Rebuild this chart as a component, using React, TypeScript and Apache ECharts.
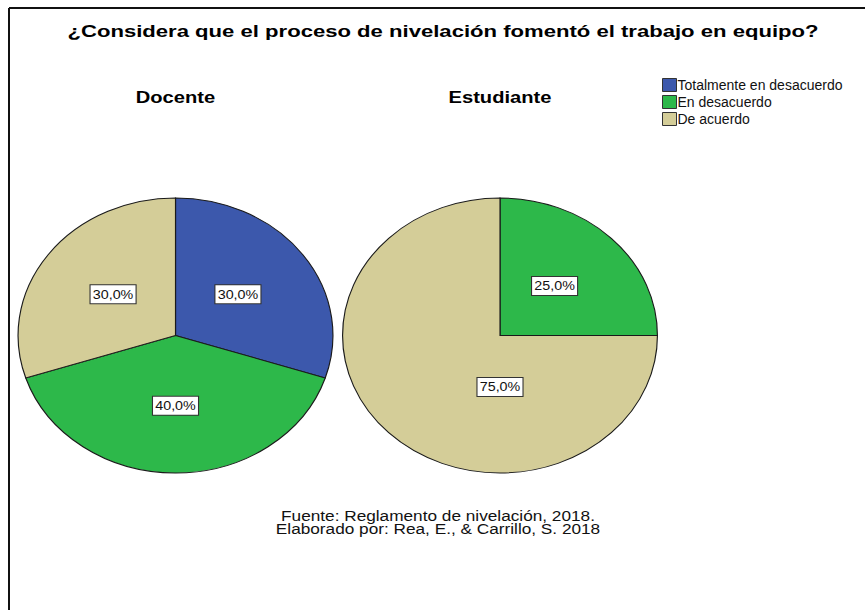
import React, { useEffect, useRef } from "react";
import * as echarts from "echarts";

const titleText = "¿Considera que el proceso de nivelación fomentó el trabajo en equipo?";
const groups = ["Docente", "Estudiante"];
const categories = ["Totalmente en desacuerdo", "En desacuerdo", "De acuerdo"];
const totalmenteEnDesacuerdo = [30, 0];
const enDesacuerdo = [40, 25];
const deAcuerdo = [30, 75];
const sourceLines = ["Fuente: Reglamento de nivelación, 2018.", "Elaborado por: Rea, E., & Carrillo, S. 2018"];

const seriesValues = [totalmenteEnDesacuerdo, enDesacuerdo, deAcuerdo];
const colors = ["#3c58ac", "#2db84a", "#d4cd98"];

// layout
const FONT = "'Liberation Sans', Arial, sans-serif";
const CENTERS = [
  [175.5, 335.5],
  [500, 335.5],
];
const RX = 157.5;
const RY = 137.5;
const LABEL_RX = 0.49;
const LABEL_RY = 0.51;

function fmt(p: number) {
  return p.toFixed(1).replace(".", ",") + "%";
}

export default function App() {
  const ref = useRef<HTMLDivElement>(null);
  useEffect(() => {
    document.body.style.margin = "0";
    const chart = echarts.init(ref.current!, null, { renderer: "svg" });

    const renderItem = (params: any, api: any) => {
      const c = params.seriesIndex;
      const p = params.dataIndex;
      const v = api.value(0) as number;
      if (!v) return { type: "group", children: [] };
      let total = 0;
      let before = 0;
      seriesValues.forEach((arr, i) => {
        total += arr[p];
        if (i < c) before += arr[p];
      });
      const a0 = -Math.PI / 2 + (2 * Math.PI * before) / total;
      const a1 = a0 + (2 * Math.PI * v) / total;
      const [cx, cy] = CENTERS[p];
      const frac = v / total;
      let lx: number, ly: number;
      if (frac > 0.5) {
        // large slices: label placed below the centre
        lx = cx;
        ly = cy + 0.375 * RY;
      } else {
        const m = (a0 + a1) / 2;
        lx = cx + LABEL_RX * RX * Math.cos(m);
        ly = cy + LABEL_RY * RY * Math.sin(m);
      }
      return {
        type: "group",
        children: [
          {
            type: "group",
            x: cx,
            y: cy,
            scaleX: RX / RY,
            children: [
              {
                type: "sector",
                shape: { cx: 0, cy: 0, r0: 0, r: RY, startAngle: a0, endAngle: a1, clockwise: true },
                style: { fill: colors[c], stroke: "#1a1a1a", lineWidth: 1, strokeNoScale: true },
              },
            ],
          },
          {
            type: "text",
            x: lx,
            y: ly,
            scaleX: 1.1,
            z2: 10,
            style: {
              text: fmt(frac * 100),
              fill: "#111",
              font: `13px ${FONT}`,
              align: "center",
              verticalAlign: "middle",
              backgroundColor: "#ffffff",
              borderColor: "#333",
              borderWidth: 1,
              padding: [3, 2, 2, 2],
            },
          },
        ],
      };
    };

    chart.setOption({
      animation: false,
      color: colors,
      legend: {
        orient: "vertical",
        left: 657,
        top: 73,
        itemWidth: 14,
        itemHeight: 13,
        itemGap: 3,
        icon: "rect",
        selectedMode: false,
        data: categories,
        itemStyle: { borderColor: "#333", borderWidth: 1 },
        textStyle: { fontFamily: FONT, fontSize: 14, color: "#111", padding: [0, 0, 0, -4] },
      },
      xAxis: { show: false },
      yAxis: { show: false },
      series: categories.map((name, i) => ({
        type: "custom",
        name,
        coordinateSystem: "none",
        itemStyle: { color: colors[i] },
        data: seriesValues[i].map((v) => [v]),
        renderItem,
      })),
      graphic: [
        { type: "line", shape: { x1: 9, y1: 8, x2: 865, y2: 8 }, style: { stroke: "#111", lineWidth: 2 } },
        { type: "line", shape: { x1: 9, y1: 8, x2: 9, y2: 610 }, style: { stroke: "#111", lineWidth: 2 } },
        {
          type: "text",
          x: 443,
          y: 31,
          scaleX: 1.3,
          style: { text: titleText, font: `bold 17px ${FONT}`, fill: "#000", align: "center", verticalAlign: "middle" },
        },
        ...groups.map((g, i) => ({
          type: "text",
          x: CENTERS[i][0],
          y: 98,
          scaleX: 1.26,
          style: { text: g, font: `bold 16px ${FONT}`, fill: "#000", align: "center", verticalAlign: "middle" },
        })),
        {
          type: "text",
          x: 438,
          y: 523,
          scaleX: 1.23,
          style: {
            text: sourceLines.join("\n"),
            font: `14px ${FONT}`,
            lineHeight: 13,
            fill: "#111",
            align: "center",
            verticalAlign: "middle",
          },
        },
      ],
    });
    return () => chart.dispose();
  }, []);
  return <div ref={ref} style={{ width: 865, height: 610 }} />;
}
